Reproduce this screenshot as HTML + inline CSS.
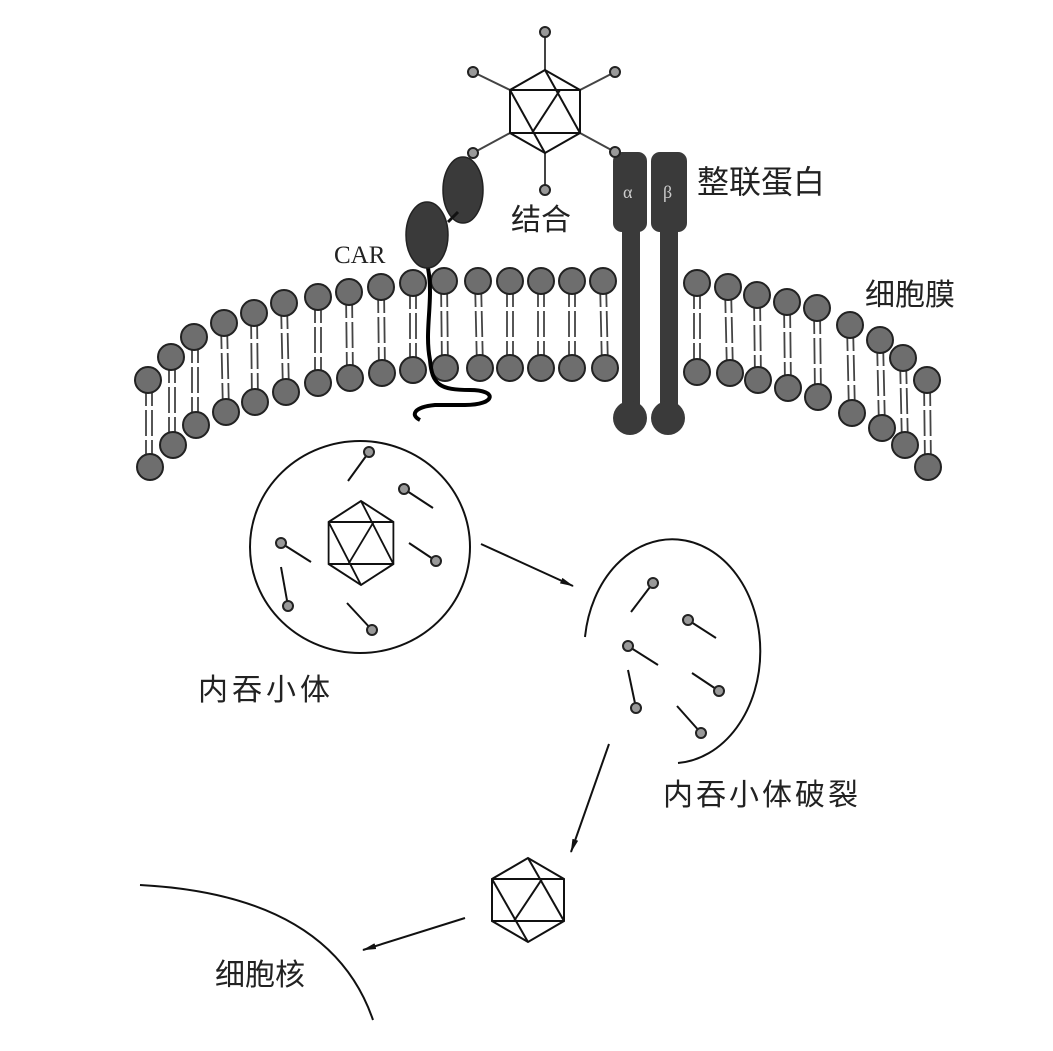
<!DOCTYPE html>
<html><head><meta charset="utf-8"><style>
html,body{margin:0;padding:0;background:#fff;}
svg{display:block;}
text{font-family:"Liberation Sans","Noto Sans CJK SC",sans-serif;fill:#222;}
</style></head><body>
<svg width="1053" height="1051" viewBox="0 0 1053 1051" xmlns="http://www.w3.org/2000/svg">
<defs>
<marker id="ah" markerWidth="14" markerHeight="8" refX="13" refY="4" orient="auto" markerUnits="userSpaceOnUse">
<path d="M0,1 L14,4 L0,7 Z" fill="#111"/></marker>
<g id="hex" fill="none" stroke="#111" stroke-width="2">
<polygon points="0,-42 -36,-21 -36,21 0,42 36,21 36,-21"/>
<line x1="-36" y1="-21" x2="36" y2="-21"/><line x1="-36" y1="21" x2="36" y2="21"/>
<line x1="0" y1="-42" x2="36" y2="21"/><line x1="-36" y1="-21" x2="0" y2="42"/>
<line x1="14" y1="-21" x2="-14" y2="21"/>
</g>
</defs>

<!-- lipid tails -->
<g stroke="#555" stroke-width="2" fill="none" id="tails">
</g>
<script>
</script>
<g id="lip"></g>

<g stroke="#444" stroke-width="1.8" stroke-dasharray="26 4">
<!-- left pairs -->
<line x1="146" y1="380" x2="146" y2="467"/><line x1="152" y1="380" x2="152" y2="467"/>
<line x1="169" y1="357" x2="169" y2="445"/><line x1="175" y1="357" x2="175" y2="445"/>
<line x1="192" y1="337" x2="192" y2="425"/><line x1="198" y1="337" x2="198" y2="425"/>
<line x1="221" y1="323" x2="223" y2="412"/><line x1="227" y1="323" x2="229" y2="412"/>
<line x1="251" y1="313" x2="252" y2="402"/><line x1="257" y1="313" x2="258" y2="402"/>
<line x1="281" y1="303" x2="283" y2="392"/><line x1="287" y1="303" x2="289" y2="392"/>
<line x1="315" y1="297" x2="315" y2="383"/><line x1="321" y1="297" x2="321" y2="383"/>
<line x1="346" y1="292" x2="347" y2="378"/><line x1="352" y1="292" x2="353" y2="378"/>
<line x1="378" y1="287" x2="379" y2="373"/><line x1="384" y1="287" x2="385" y2="373"/>
<line x1="410" y1="283" x2="410" y2="370"/><line x1="416" y1="283" x2="416" y2="370"/>
<line x1="441" y1="281" x2="442" y2="368"/><line x1="447" y1="281" x2="448" y2="368"/>
<line x1="475" y1="281" x2="477" y2="368"/><line x1="481" y1="281" x2="483" y2="368"/>
<line x1="507" y1="281" x2="507" y2="368"/><line x1="513" y1="281" x2="513" y2="368"/>
<line x1="538" y1="281" x2="538" y2="368"/><line x1="544" y1="281" x2="544" y2="368"/>
<line x1="569" y1="281" x2="569" y2="368"/><line x1="575" y1="281" x2="575" y2="368"/>
<line x1="600" y1="281" x2="602" y2="368"/><line x1="606" y1="281" x2="608" y2="368"/>
<!-- right pairs -->
<line x1="694" y1="283" x2="694" y2="372"/><line x1="700" y1="283" x2="700" y2="372"/>
<line x1="725" y1="287" x2="727" y2="373"/><line x1="731" y1="287" x2="733" y2="373"/>
<line x1="754" y1="295" x2="755" y2="380"/><line x1="760" y1="295" x2="761" y2="380"/>
<line x1="784" y1="302" x2="785" y2="388"/><line x1="790" y1="302" x2="791" y2="388"/>
<line x1="814" y1="308" x2="815" y2="397"/><line x1="820" y1="308" x2="821" y2="397"/>
<line x1="847" y1="325" x2="849" y2="413"/><line x1="853" y1="325" x2="855" y2="413"/>
<line x1="877" y1="340" x2="879" y2="428"/><line x1="883" y1="340" x2="885" y2="428"/>
<line x1="900" y1="358" x2="902" y2="445"/><line x1="906" y1="358" x2="908" y2="445"/>
<line x1="924" y1="380" x2="925" y2="467"/><line x1="930" y1="380" x2="931" y2="467"/>
</g>

<g fill="#6e6e6e" stroke="#222" stroke-width="2">
<circle cx="148" cy="380" r="13"/><circle cx="171" cy="357" r="13"/><circle cx="194" cy="337" r="13"/><circle cx="224" cy="323" r="13"/><circle cx="254" cy="313" r="13"/><circle cx="284" cy="303" r="13"/><circle cx="318" cy="297" r="13"/><circle cx="349" cy="292" r="13"/><circle cx="381" cy="287" r="13"/><circle cx="413" cy="283" r="13"/><circle cx="444" cy="281" r="13"/><circle cx="478" cy="281" r="13"/><circle cx="510" cy="281" r="13"/><circle cx="541" cy="281" r="13"/><circle cx="572" cy="281" r="13"/><circle cx="603" cy="281" r="13"/>
<circle cx="150" cy="467" r="13"/><circle cx="173" cy="445" r="13"/><circle cx="196" cy="425" r="13"/><circle cx="226" cy="412" r="13"/><circle cx="255" cy="402" r="13"/><circle cx="286" cy="392" r="13"/><circle cx="318" cy="383" r="13"/><circle cx="350" cy="378" r="13"/><circle cx="382" cy="373" r="13"/><circle cx="413" cy="370" r="13"/><circle cx="445" cy="368" r="13"/><circle cx="480" cy="368" r="13"/><circle cx="510" cy="368" r="13"/><circle cx="541" cy="368" r="13"/><circle cx="572" cy="368" r="13"/><circle cx="605" cy="368" r="13"/>
<circle cx="697" cy="283" r="13"/><circle cx="728" cy="287" r="13"/><circle cx="757" cy="295" r="13"/><circle cx="787" cy="302" r="13"/><circle cx="817" cy="308" r="13"/><circle cx="850" cy="325" r="13"/><circle cx="880" cy="340" r="13"/><circle cx="903" cy="358" r="13"/><circle cx="927" cy="380" r="13"/>
<circle cx="697" cy="372" r="13"/><circle cx="730" cy="373" r="13"/><circle cx="758" cy="380" r="13"/><circle cx="788" cy="388" r="13"/><circle cx="818" cy="397" r="13"/><circle cx="852" cy="413" r="13"/><circle cx="882" cy="428" r="13"/><circle cx="905" cy="445" r="13"/><circle cx="928" cy="467" r="13"/>
</g>

<!-- CAR -->
<path d="M428,268 C434,300 424,330 430,360 C432,385 440,390 470,390 C498,390 496,405 465,405 L435,405 C414,407 410,415 420,420" fill="none" stroke="#000" stroke-width="4"/>
<ellipse cx="463" cy="190" rx="20" ry="33" fill="#3a3a3a" stroke="#222" stroke-width="1.5"/>
<line x1="458" y1="212" x2="448" y2="222" stroke="#111" stroke-width="3"/>
<ellipse cx="427" cy="235" rx="21" ry="33" fill="#3a3a3a" stroke="#222" stroke-width="1.5"/>
<text x="334" y="263" font-family="Liberation Serif" font-size="25" style="font-family:'Liberation Serif',serif">CAR</text>

<!-- Integrins -->
<g fill="#3a3a3a">
<rect x="613" y="152" width="34" height="80" rx="9"/><rect x="622" y="220" width="18" height="185"/><circle cx="630" cy="418" r="17"/>
<rect x="651" y="152" width="36" height="80" rx="9"/><rect x="660" y="220" width="18" height="185"/><circle cx="668" cy="418" r="17"/>
</g>
<text x="623" y="198" font-size="18" style="fill:#ccc;font-family:'Liberation Serif',serif">α</text>
<text x="663" y="198" font-size="18" style="fill:#ccc;font-family:'Liberation Serif',serif">β</text>

<!-- top virus -->
<g stroke="#444" stroke-width="2">
<line x1="545" y1="70" x2="545" y2="32"/><line x1="510" y1="90" x2="473" y2="72"/><line x1="580" y1="90" x2="615" y2="72"/>
<line x1="510" y1="133" x2="473" y2="153"/><line x1="580" y1="133" x2="615" y2="152"/><line x1="545" y1="153" x2="545" y2="190"/>
</g>
<g fill="none" stroke="#111" stroke-width="2">
<polygon points="545,70 510,90 510,133 545,153 580,133 580,90"/>
<line x1="510" y1="90" x2="580" y2="90"/><line x1="510" y1="133" x2="580" y2="133"/>
<line x1="545" y1="70" x2="580" y2="133"/><line x1="510" y1="90" x2="545" y2="153"/><line x1="560" y1="90" x2="532" y2="133"/>
</g>
<g fill="#999" stroke="#222" stroke-width="2">
<circle cx="545" cy="32" r="5"/><circle cx="473" cy="72" r="5"/><circle cx="615" cy="72" r="5"/><circle cx="473" cy="153" r="5"/><circle cx="615" cy="152" r="5"/><circle cx="545" cy="190" r="5"/>
</g>
<text x="511" y="230" font-size="30">结合</text>
<text x="697" y="193" font-size="32">整联蛋白</text>
<text x="865" y="305" font-size="30">细胞膜</text>

<!-- endosome -->
<ellipse cx="360" cy="547" rx="110" ry="106" fill="none" stroke="#111" stroke-width="2"/>
<use href="#hex" transform="translate(361,543) scale(0.9,1)"/>
<g stroke="#111" stroke-width="2">
<line x1="369" y1="452" x2="348" y2="481"/><line x1="404" y1="489" x2="433" y2="508"/><line x1="281" y1="543" x2="311" y2="562"/>
<line x1="436" y1="561" x2="409" y2="543"/><line x1="288" y1="606" x2="281" y2="567"/><line x1="372" y1="630" x2="347" y2="603"/>
<line x1="653" y1="583" x2="631" y2="612"/><line x1="688" y1="620" x2="716" y2="638"/><line x1="628" y1="646" x2="658" y2="665"/>
<line x1="719" y1="691" x2="692" y2="673"/><line x1="636" y1="708" x2="628" y2="670"/><line x1="701" y1="733" x2="677" y2="706"/>
</g>
<g fill="#999" stroke="#222" stroke-width="2">
<circle cx="369" cy="452" r="5"/><circle cx="404" cy="489" r="5"/><circle cx="281" cy="543" r="5"/><circle cx="436" cy="561" r="5"/><circle cx="288" cy="606" r="5"/><circle cx="372" cy="630" r="5"/>
<circle cx="653" cy="583" r="5"/><circle cx="688" cy="620" r="5"/><circle cx="628" cy="646" r="5"/><circle cx="719" cy="691" r="5"/><circle cx="636" cy="708" r="5"/><circle cx="701" cy="733" r="5"/>
</g>
<path d="M585,637 A88,112 0 1 1 678,763" fill="none" stroke="#111" stroke-width="2"/>
<text x="198" y="700" font-size="30" letter-spacing="4">内吞小体</text>
<text x="663" y="805" font-size="30" letter-spacing="3">内吞小体破裂</text>

<!-- arrows -->
<g stroke="#111" stroke-width="2" marker-end="url(#ah)">
<line x1="481" y1="544" x2="573" y2="586"/>
<line x1="609" y1="744" x2="571" y2="852"/>
<line x1="465" y1="918" x2="363" y2="950"/>
</g>
<use href="#hex" transform="translate(528,900) scale(1,1)"/>
<path d="M140,885 Q330,895 373,1020" fill="none" stroke="#111" stroke-width="2"/>
<text x="215" y="985" font-size="30">细胞核</text>
</svg>
</body></html>
